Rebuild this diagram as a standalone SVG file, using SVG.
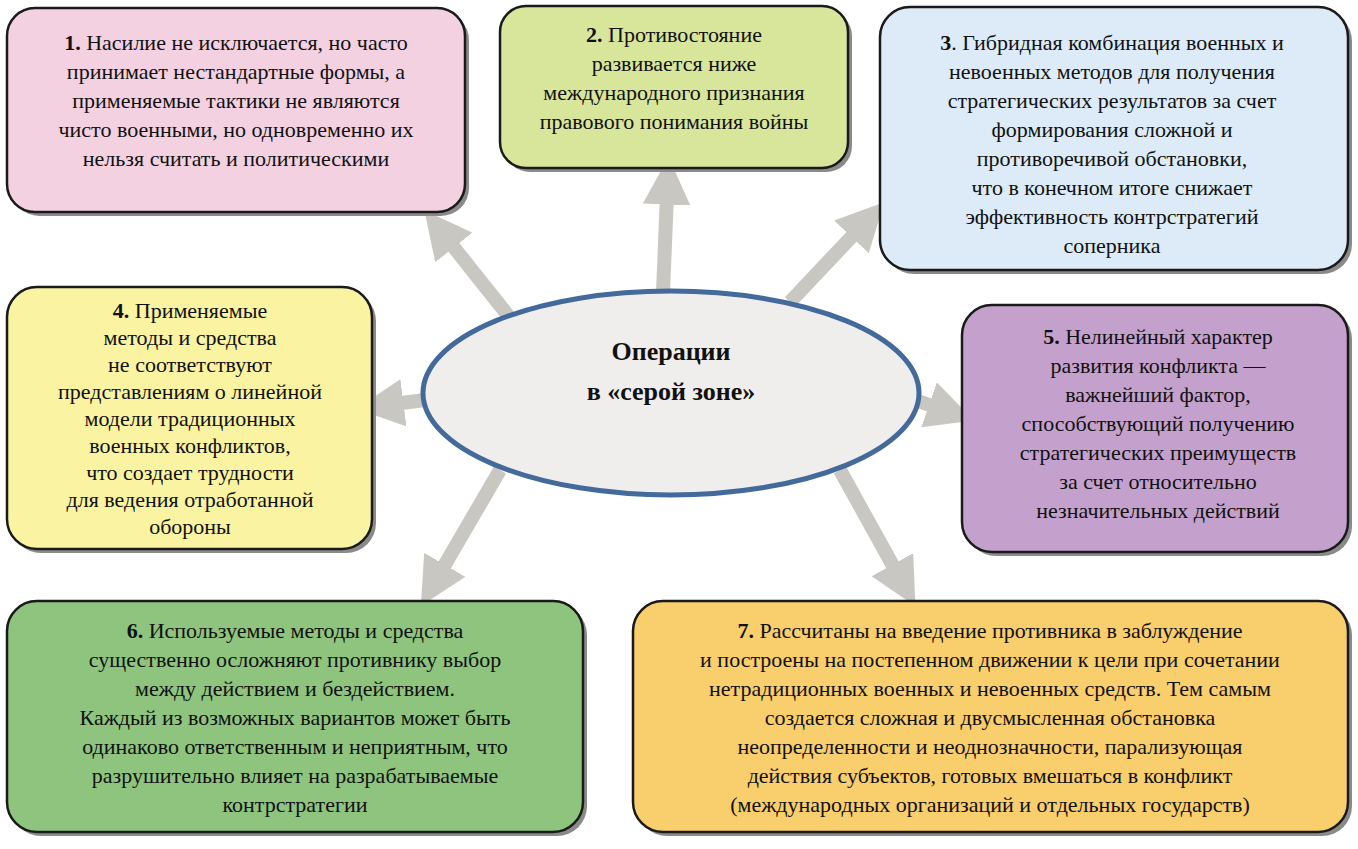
<svg xmlns="http://www.w3.org/2000/svg" width="1358" height="849" viewBox="0 0 1358 849">
<style>
.b{stroke:#1a1a1a;stroke-width:2.5}
.s{fill:#8a8a8a}
text{font-size:22px;fill:#111;text-anchor:middle}
.n{font-weight:bold}
.c{font-size:26px;font-weight:bold}
.a{stroke:#c9c7c2;stroke-width:14;fill:none;marker-end:url(#h)}
</style>
<defs>
<marker id="h" viewBox="0 0 10 10" refX="2" refY="5" markerWidth="3.4" markerHeight="3.4" orient="auto" markerUnits="strokeWidth">
<path d="M0,0L10,5L0,10z" fill="#c9c7c2"/>
</marker>
</defs>
<rect width="1358" height="849" fill="#fff"/>
<g id="connectors">
<line class="a" x1="510" y1="318" x2="448" y2="240"/>
<line class="a" x1="663" y1="292" x2="667" y2="195"/>
<line class="a" x1="790" y1="302" x2="858" y2="230"/>
<line class="a" x1="425" y1="400" x2="394" y2="404"/>
<line class="a" x1="915" y1="400" x2="938" y2="408"/>
<line class="a" x1="500" y1="470" x2="440" y2="573"/>
<line class="a" x1="840" y1="470" x2="897" y2="573"/>
</g>
<g font-family="Liberation Serif, DejaVu Serif, serif">
<g id="center">
<ellipse cx="671" cy="393" rx="248" ry="102" fill="#efeeec" stroke="#44699b" stroke-width="5"/>
<text class="c" x="671" y="360">Операции</text>
<text class="c" x="671" y="400">в «серой зоне»</text>
</g>
<g id="n1">
<rect class="s" x="11" y="12" width="458" height="204" rx="28"/>
<rect class="b" x="7" y="8" width="458" height="204" rx="28" fill="#f3d1e1"/>
<text x="236" y="50"><tspan class="n">1.</tspan> Насилие не исключается, но часто</text>
<text x="236" y="79">принимает нестандартные формы, а</text>
<text x="236" y="108">применяемые тактики не являются</text>
<text x="236" y="137">чисто военными, но одновременно их</text>
<text x="236" y="166">нельзя считать и политическими</text>
</g>
<g id="n2">
<rect class="s" x="504" y="10" width="348" height="162" rx="26"/>
<rect class="b" x="500" y="6" width="348" height="162" rx="26" fill="#d8e69c"/>
<text x="674" y="42"><tspan class="n">2.</tspan> Противостояние</text>
<text x="674" y="71">развивается ниже</text>
<text x="674" y="100">международного признания</text>
<text x="674" y="129">правового понимания войны</text>
</g>
<g id="n3">
<rect class="s" x="884" y="11" width="468" height="263" rx="30"/>
<rect class="b" x="880" y="7" width="468" height="263" rx="30" fill="#dcebf7"/>
<text x="1112" y="50"><tspan class="n">3</tspan>. Гибридная комбинация военных и</text>
<text x="1112" y="79">невоенных методов для получения</text>
<text x="1112" y="108">стратегических результатов за счет</text>
<text x="1112" y="137">формирования сложной и</text>
<text x="1112" y="166">противоречивой обстановки,</text>
<text x="1112" y="195">что в конечном итоге снижает</text>
<text x="1112" y="224">эффективность контрстратегий</text>
<text x="1112" y="253">соперника</text>
</g>
<g id="n4">
<rect class="s" x="11" y="291" width="365" height="262" rx="30"/>
<rect class="b" x="7" y="287" width="365" height="262" rx="30" fill="#faf4a2"/>
<text x="190" y="318"><tspan class="n">4.</tspan> Применяемые</text>
<text x="190" y="345">методы и средства</text>
<text x="190" y="372">не соответствуют</text>
<text x="190" y="399">представлениям о линейной</text>
<text x="190" y="426">модели традиционных</text>
<text x="190" y="453">военных конфликтов,</text>
<text x="190" y="480">что создает трудности</text>
<text x="190" y="507">для ведения отработанной</text>
<text x="190" y="534">обороны</text>
</g>
<g id="n5">
<rect class="s" x="966" y="309" width="386" height="247" rx="30"/>
<rect class="b" x="962" y="305" width="386" height="247" rx="30" fill="#c4a1cd"/>
<text x="1158" y="344"><tspan class="n">5.</tspan> Нелинейный характер</text>
<text x="1158" y="373">развития конфликта —</text>
<text x="1158" y="402">важнейший фактор,</text>
<text x="1158" y="431">способствующий получению</text>
<text x="1158" y="460">стратегических преимуществ</text>
<text x="1158" y="489">за счет относительно</text>
<text x="1158" y="518">незначительных действий</text>
</g>
<g id="n6">
<rect class="s" x="11" y="605" width="576" height="231" rx="30"/>
<rect class="b" x="7" y="601" width="576" height="231" rx="30" fill="#8fc47f"/>
<text x="295" y="638"><tspan class="n">6.</tspan> Используемые методы и средства</text>
<text x="295" y="667">существенно осложняют противнику выбор</text>
<text x="295" y="696">между действием и бездействием.</text>
<text x="295" y="725">Каждый из возможных вариантов может быть</text>
<text x="295" y="754">одинаково ответственным и неприятным, что</text>
<text x="295" y="783">разрушительно влияет на разрабатываемые</text>
<text x="295" y="812">контрстратегии</text>
</g>
<g id="n7">
<rect class="s" x="637" y="605" width="715" height="231" rx="30"/>
<rect class="b" x="633" y="601" width="715" height="231" rx="30" fill="#f9ce6c"/>
<text x="990" y="638"><tspan class="n">7.</tspan> Рассчитаны на введение противника в заблуждение</text>
<text x="990" y="667">и построены на постепенном движении к цели при сочетании</text>
<text x="990" y="696">нетрадиционных военных и невоенных средств. Тем самым</text>
<text x="990" y="725">создается сложная и двусмысленная обстановка</text>
<text x="990" y="754">неопределенности и неоднозначности, парализующая</text>
<text x="990" y="783">действия субъектов, готовых вмешаться в конфликт</text>
<text x="990" y="812">(международных организаций и отдельных государств)</text>
</g>
</g>
</svg>
